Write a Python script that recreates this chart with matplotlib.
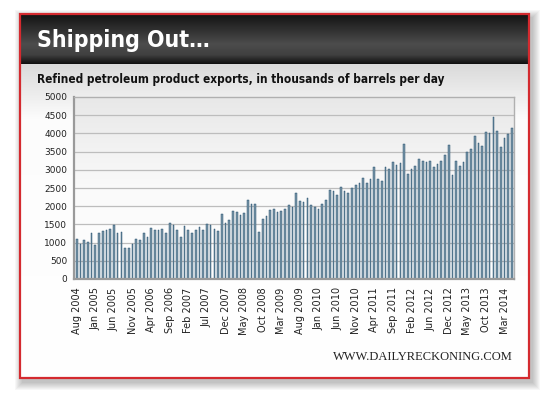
import numpy as np
import matplotlib
matplotlib.use("Agg")
import matplotlib.pyplot as plt
from matplotlib.patches import Rectangle
from matplotlib import font_manager

# monthly values, Aug 2004 - May 2014 (thousand barrels per day)
exports = [1100, 960, 1080, 1006, 1274, 933, 1274, 1311, 1357, 1385,
           1496, 1256, 1302, 850, 850, 960, 1108, 1080, 1274, 1163,
           1413, 1339, 1357, 1376, 1274, 1542, 1496, 1357, 1154, 1450,
           1357, 1274, 1348, 1440, 1339, 1524, 1477, 1367, 1320, 1791,
           1551, 1616, 1856, 1828, 1745, 1800, 2160, 2050, 2068, 1302,
           1653, 1736, 1884, 1930, 1837, 1856, 1911, 2022, 1967, 2373,
           2133, 2124, 2235, 2022, 1967, 1911, 2050, 2170, 2438, 2419,
           2318, 2539, 2419, 2364, 2493, 2595, 2650, 2780, 2650, 2742,
           3075, 2742, 2705, 3075, 3010, 3204, 3121, 3186, 3703, 2881,
           3010, 3102, 3287, 3232, 3213, 3250, 3084, 3158, 3241, 3398,
           3675, 2862, 3241, 3112, 3213, 3500, 3573, 3924, 3730, 3647,
           4035, 3998, 4460, 4063, 3638, 3878, 3970, 4155]

tick_labels = ["Aug 2004", "Jan 2005", "Jun 2005", "Nov 2005", "Apr 2006",
               "Sep 2006", "Feb 2007", "Jul 2007", "Dec 2007", "May 2008",
               "Oct 2008", "Mar 2009", "Aug 2009", "Jan 2010", "Jun 2010",
               "Nov 2010", "Apr 2011", "Sep 2011", "Feb 2012", "Jun 2012",
               "Dec 2012", "May 2013", "Oct 2013", "Mar 2014"]
y_ticks = [0, 500, 1000, 1500, 2000, 2500, 3000, 3500, 4000, 4500, 5000]

title = "Shipping Out\u2026"
subtitle = "Refined petroleum product exports, in thousands of barrels per day"
source = "WWW.DAILYRECKONING.COM"

# pick a narrow bold face if one is around, else Roboto
narrow = [f.name for f in font_manager.fontManager.ttflist
          if "Narrow" in f.name or "Condensed" in f.name
          or str(f.stretch) in ("condensed", "semi-condensed", "extra-condensed")]
if narrow:
    head_font = dict(family=[narrow[0], "DejaVu Sans"], stretch="condensed")
    t_size, s_size = 16.5, 8.5
else:
    head_font = dict(family=["Roboto", "DejaVu Sans"])
    t_size, s_size = 16, 8.2

W, H = 550, 398
fig = plt.figure(figsize=(W / 100, H / 100), dpi=100)
fig.patch.set_facecolor("white")

bg = fig.add_axes([0, 0, 1, 1])
bg.set_xlim(0, W)
bg.set_ylim(H, 0)
bg.axis("off")

x0, y0, x1, y1 = 20, 14, 529, 378
# soft shadow
for i in range(1, 9):
    bg.add_patch(Rectangle((x0 - i + 3, y0 - i + 4), (x1 - x0) + 2 * i, (y1 - y0) + 2 * i,
                           facecolor="black", edgecolor="none", alpha=0.03, zorder=1))

# light panel gradient (grey under header fading to white)
grad = np.linspace(0, 1, 300)[:, None]
panel = np.interp(grad, [0, 0.18, 1], [0.85, 0.99, 1.0])
bg.imshow(np.dstack([panel] * 3), extent=(x0, x1, y1, y0 + 48), aspect="auto", zorder=2)

# dark header
g = np.linspace(0, 1, 100)
hdr = np.interp(g, [0, 0.6, 0.82, 1], [0.07, 0.30, 0.25, 0.06])[:, None]
bg.imshow(np.dstack([hdr] * 3), extent=(x0, x1, y0 + 50, y0), aspect="auto", zorder=3)

bg.add_patch(Rectangle((x0, y0), x1 - x0, y1 - y0, fill=False,
                       edgecolor="#d42a2f", linewidth=1.6, zorder=10))

bg.text(37, 41, title, color="white", fontsize=t_size, fontweight="bold",
        va="center", ha="left", zorder=11, **head_font)
bg.text(37, 79, subtitle, color="#111111", fontsize=s_size, fontweight="bold",
        va="center", ha="left", zorder=11, **head_font)
bg.text(513, 357, source, color="#222222", fontsize=9,
        family=["Liberation Serif", "DejaVu Serif"], va="center", ha="right", zorder=11)

# plot area
ax = fig.add_axes([74 / W, 1 - 279 / H, 440 / W, 182 / H])
ax.set_xlim(-0.73, 117.55)
ax.set_ylim(0, 5000)
pg = np.linspace(0, 1, 100)[:, None]
plotbg = np.interp(pg, [0, 0.5, 1], [0.91, 0.98, 1.0])
ax.imshow(np.dstack([plotbg] * 3), extent=(-0.73, 117.55, 0, 5000), aspect="auto", zorder=0)

for yv in y_ticks[1:-1]:
    ax.axhline(yv, color="#bdbdbd", linewidth=0.9, zorder=1)

xs = np.arange(len(exports))
ax.bar(xs, exports, width=0.45, color="#7b98aa", edgecolor="#123f60", linewidth=0.3, zorder=2)

ax.set_yticks(y_ticks)
ax.set_yticklabels([str(v) for v in y_ticks], fontsize=6.5, color="#222222")
ax.set_xticks(xs[::5][:len(tick_labels)])
ax.set_xticklabels(tick_labels, rotation=90, fontsize=7, color="#222222")
ax.tick_params(axis="both", length=0)
ax.tick_params(axis="x", pad=6)
ax.tick_params(axis="y", pad=5)

for side in ["left", "bottom"]:
    ax.spines[side].set_color("#9a9a9a")
    ax.spines[side].set_linewidth(1.6)
for side in ["top", "right"]:
    ax.spines[side].set_color("#b0b0b0")
    ax.spines[side].set_linewidth(1.0)

fig.savefig("out.png", dpi=100)
